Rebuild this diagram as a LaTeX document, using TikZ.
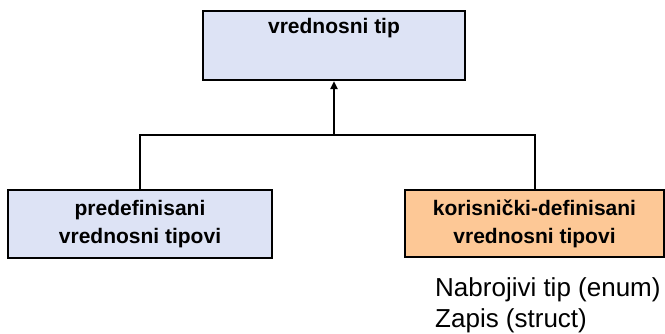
\documentclass[tikz,border=0pt]{standalone}
\usepackage{fontspec}
\setmainfont{Liberation Sans}
\usetikzlibrary{arrows.meta}
\definecolor{boxblue}{RGB}{221,227,245}
\definecolor{boxorange}{RGB}{253,200,150}
\tikzset{
  tipbox/.style={draw=black,line width=2.2pt,fill=boxblue,inner sep=0pt,
    align=center,font=\bfseries\fontsize{21}{28}\selectfont},
  conn/.style={draw=black,line width=2pt}
}

\begin{document}
\begin{tikzpicture}[x=1pt,y=-1pt]
\useasboundingbox (0,0) rectangle (665,334);
% gornji cvor, tekst pri vrhu
\node[tipbox,minimum width=262pt,text height=15pt,text depth=38pt,inner ysep=8pt]
  (vt) at (334,45.5) {vrednosni tip};
\node[tipbox,minimum width=264pt,minimum height=68pt] (pd) at (140,224)
  {predefinisani\\vrednosni tipovi};
\node[tipbox,fill=boxorange,minimum width=259pt,minimum height=67pt] (kd) at (534.5,223.5)
  {korisnički-definisani\\vrednosni tipovi};
\node[anchor=north west,inner sep=0pt,align=left,font=\fontsize{26}{31}\selectfont]
  (lst) at (435,277) {Nabrojivi tip (enum)\\Zapis (struct)};
\coordinate (jn) at (334,135);
\draw[conn] (pd.north) |- (jn) -| (kd.north);
\draw[conn,-{Triangle[length=8pt,width=7pt]}] (jn) -- (vt.south);
\end{tikzpicture}
\end{document}
